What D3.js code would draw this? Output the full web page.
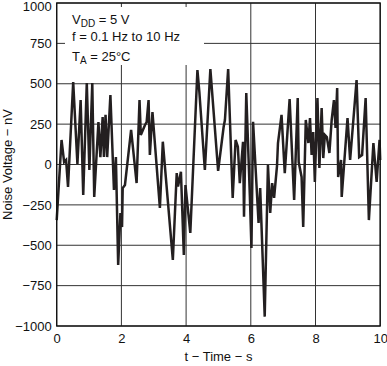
<!DOCTYPE html>
<html><head><meta charset="utf-8">
<script src="https://cdn.jsdelivr.net/npm/d3@7"></script>
<style>body{margin:0;background:#fff;} svg{display:block;font-family:"Liberation Sans",Arial,sans-serif;}</style>
</head><body>
<script>
const times = [0,0.15,0.23,0.29,0.35,0.51,0.64,0.74,0.82,0.93,1.01,1.10,1.16,1.29,1.35,1.42,1.46,1.51,1.56,1.66,1.77,1.83,1.90,1.97,2.02,2.04,2.11,2.30,2.47,2.56,2.60,2.73,2.78,2.84,2.88,2.96,3.19,3.28,3.59,3.71,3.75,3.84,3.93,3.98,4.13,4.35,4.41,4.58,4.75,4.99,5.16,5.20,5.30,5.44,5.53,5.60,5.66,5.76,5.79,5.86,5.97,6.02,6.07,6.24,6.29,6.43,6.53,6.60,6.66,6.72,6.81,6.84,6.95,7.05,7.20,7.34,7.45,7.48,7.57,7.62,7.70,7.78,7.83,7.88,7.93,7.98,8.06,8.12,8.19,8.24,8.29,8.35,8.43,8.50,8.57,8.62,8.67,8.70,8.79,8.81,8.99,9.07,9.27,9.35,9.44,9.55,9.65,9.79,9.89,9.98,10.0];
const noise = [-344,152,15,28,-139,511,3,399,-189,505,-34,505,-201,263,46,294,46,307,46,430,-158,46,-622,-300,-387,-146,-127,214,-115,399,183,245,263,399,59,325,-269,141,-591,-53,-137,-45,-560,-127,-424,585,449,-34,591,-40,232,275,591,-207,152,110,-115,141,-323,443,-189,-517,265,-362,-146,-942,-3,-300,-115,-207,-9,133,307,-53,405,-220,412,15,-77,-387,276,133,288,59,201,-108,412,-22,350,40,183,170,71,276,399,226,474,-77,28,-201,288,28,523,46,59,412,-344,133,-108,152,28];
const xTicks = [0,2,4,6,8,10];
const yTicks = [-1000,-750,-500,-250,0,250,500,750,1000];
const notes = [["V","DD"," = 5 V"],["f = 0.1 Hz to 10 Hz","",""],["T","A"," = 25°C"]];
const xLabel = "t − Time − s";
const yLabel = "Noise Voltage − nV";

const W=387,H=366;
const L=56.7,R=380.2,T=3,B=326;
const svg=d3.select("body").append("svg").attr("width",W).attr("height",H);
const x=d3.scaleLinear().domain([0,10]).range([L,R]);
const y=d3.scaleLinear().domain([-1000,1000]).range([B,T]);

// grid
svg.append("g").selectAll("line").data(yTicks).join("line")
  .attr("x1",L).attr("x2",R).attr("y1",d=>y(d)).attr("y2",d=>y(d))
  .attr("stroke","#333").attr("stroke-width",1);
svg.append("g").selectAll("line").data(xTicks).join("line")
  .attr("x1",d=>x(d)).attr("x2",d=>x(d)).attr("y1",T).attr("y2",B)
  .attr("stroke","#333").attr("stroke-width",1);

// annotation box
svg.append("rect").attr("x",65).attr("y",7).attr("width",139).attr("height",58).attr("fill","#fff");
const tx=svg.append("g").attr("font-size",13).attr("fill","#111");
const baselines=[24,41,61];
notes.forEach((n,i)=>{
  const t=tx.append("text").attr("x",72).attr("y",baselines[i]);
  t.append("tspan").text(n[0]);
  if(n[1]) t.append("tspan").attr("font-size",10).attr("dy",3).text(n[1]);
  if(n[2]) t.append("tspan").attr("dy",n[1]?-3:0).text(n[2]);
});

// line
const line=d3.line().x((d,i)=>x(times[i])).y(d=>y(d));
svg.append("path").datum(noise).attr("d",line).attr("fill","none")
  .attr("stroke","#231f20").attr("stroke-width",2.5).attr("stroke-linejoin","miter").attr("stroke-miterlimit",3);

// frame
svg.append("rect").attr("x",L).attr("y",T).attr("width",R-L).attr("height",B-T)
  .attr("fill","none").attr("stroke","#111").attr("stroke-width",1.3);

// axes
const fmt=d=>d3.format("d")(d);
const ya=svg.append("g").attr("transform",`translate(${L},0)`)
  .call(d3.axisLeft(y).tickValues(yTicks).tickFormat(fmt).tickSize(0).tickPadding(5));
ya.select(".domain").remove();
ya.selectAll("text").attr("font-size",13).attr("fill","#111").attr("font-family","Liberation Sans, Arial, sans-serif");
ya.selectAll(".tick").filter(d=>d===1000).select("text").attr("dy","0.55em");
const xa=svg.append("g").attr("transform",`translate(0,${B})`)
  .call(d3.axisBottom(x).tickValues(xTicks).tickSize(0).tickPadding(8));
xa.select(".domain").remove();
xa.selectAll("text").attr("font-size",13).attr("fill","#111").attr("font-family","Liberation Sans, Arial, sans-serif");

svg.append("text").attr("x",(L+R)/2).attr("y",361).attr("text-anchor","middle")
  .attr("font-size",13).attr("fill","#111").text(xLabel);
svg.append("text").attr("transform",`translate(12,${(T+B)/2}) rotate(-90)`).attr("text-anchor","middle")
  .attr("font-size",13).attr("fill","#111").text(yLabel);
</script>
</body></html>
